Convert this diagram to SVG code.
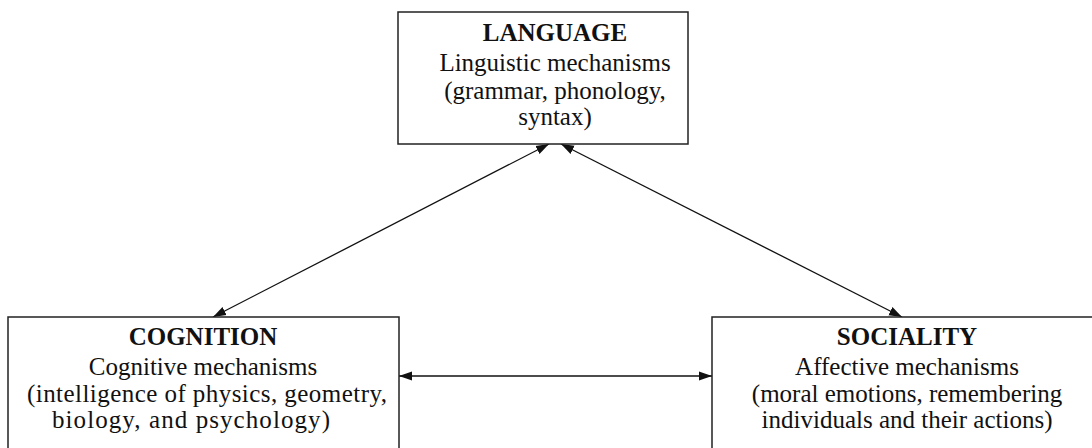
<svg xmlns="http://www.w3.org/2000/svg" width="1092" height="448" viewBox="0 0 1092 448">
<style>
.box{fill:#fff;stroke:#222;stroke-width:1.5}
.t{font-family:"Liberation Serif","Times New Roman",serif;font-size:25px;fill:#111;text-anchor:middle}
.b{font-weight:bold}
.c{stroke:#111;stroke-width:1.3;fill:none;marker-start:url(#ah);marker-end:url(#ah)}
</style>
<defs>
<marker id="ah" markerUnits="userSpaceOnUse" markerWidth="13" markerHeight="10" refX="13" refY="5" orient="auto-start-reverse" viewBox="0 0 13 10">
<path d="M0,0.5 L13,5 L0,9.5 z" fill="#111"/>
</marker>
</defs>
<rect width="1092" height="448" fill="#fff"/>
<g id="connectors">
<line class="c" x1="549" y1="144" x2="213" y2="317"/>
<line class="c" x1="561" y1="144" x2="902" y2="317"/>
<line class="c" x1="399" y1="376" x2="712" y2="376"/>
</g>
<g id="language">
<rect class="box" x="398" y="12" width="290" height="132"/>
<text class="t b" x="555" y="41">LANGUAGE</text>
<text class="t" x="555" y="71">Linguistic mechanisms</text>
<text class="t" x="555" y="99">(grammar, phonology,</text>
<text class="t" x="555" y="125">syntax)</text>
</g>
<g id="cognition">
<rect class="box" x="8" y="317" width="391" height="150"/>
<text class="t b" x="203" y="345">COGNITION</text>
<text class="t" x="203" y="375">Cognitive mechanisms</text>
<text class="t" x="207" y="402" textLength="360" lengthAdjust="spacing">(intelligence of physics, geometry,</text>
<text class="t" x="191" y="428" textLength="278" lengthAdjust="spacing">biology, and psychology)</text>
</g>
<g id="sociality">
<rect class="box" x="712" y="317" width="390" height="150"/>
<text class="t b" x="907" y="345">SOCIALITY</text>
<text class="t" x="907" y="375">Affective mechanisms</text>
<text class="t" x="907" y="402">(moral emotions, remembering</text>
<text class="t" x="907" y="428">individuals and their actions)</text>
</g>
</svg>
